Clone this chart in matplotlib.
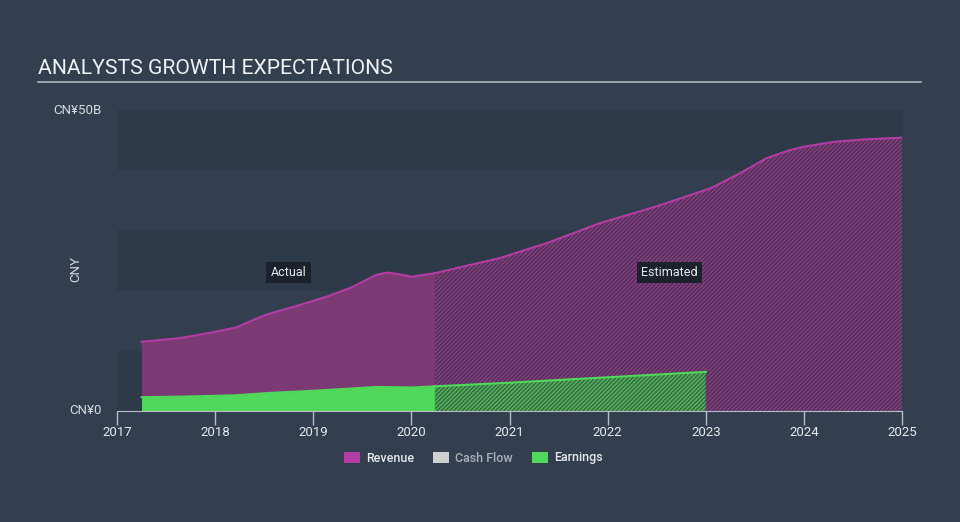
import matplotlib
matplotlib.use("Agg")
import matplotlib.pyplot as plt
from matplotlib.patches import Patch

plt.rcParams['font.family'] = ['Roboto', 'DejaVu Sans']
plt.rcParams['hatch.linewidth'] = 0.9

# revenue, CNY billions
rev_act_x = [2017.25, 2017.64, 2017.95, 2018.22, 2018.4, 2018.52, 2018.86, 2019.14, 2019.40, 2019.64, 2019.75, 2019.88, 2020.0, 2020.24]
rev_act_y = [11.5, 12.1, 13.0, 13.9, 15.2, 16.0, 17.6, 19.0, 20.6, 22.6, 23.0, 22.7, 22.3, 22.9]
rev_est_x = [2020.24, 2020.9, 2021.4, 2021.92, 2022.5, 2023.05, 2023.35, 2023.62, 2023.85, 2024.0, 2024.3, 2024.6, 2025.0]
rev_est_y = [22.9, 25.4, 28.0, 31.2, 34.0, 37.0, 39.5, 42.0, 43.3, 43.9, 44.7, 45.1, 45.4]

# earnings, CNY billions
ear_act_x = [2017.25, 2017.7, 2018.2, 2018.55, 2019.05, 2019.65, 2020.0, 2020.24]
ear_act_y = [2.3, 2.4, 2.6, 3.0, 3.4, 4.0, 3.9, 4.1]
ear_est_x = [2020.24, 2021.0, 2022.0, 2023.0]
ear_est_y = [4.1, 4.7, 5.6, 6.5]

years = [2017, 2018, 2019, 2020, 2021, 2022, 2023, 2024, 2025]

bg = '#333f4f'
band = '#2e3a48'
rev_line = '#b53ba6'
rev_fill = '#7b3a74'
ear_col = '#4fd85a'

fig = plt.figure(figsize=(9.6, 5.22), dpi=100, facecolor=bg)
ax = fig.add_axes([117/960, 111/522, 785/960, 301/522])
ax.set_facecolor(bg)

# alternating bands
for lo in [0, 20, 40]:
    ax.axhspan(lo, lo + 10, color=band, zorder=0, lw=0)

# revenue
ax.fill_between(rev_act_x, rev_act_y, color=rev_fill, lw=0, zorder=1)
ax.plot(rev_act_x, rev_act_y, color=rev_line, lw=1.5, zorder=3)
ax.fill_between(rev_est_x, rev_est_y, facecolor='#503458', edgecolor='#903d86', hatch='////////', lw=0, zorder=1)
ax.plot(rev_est_x, rev_est_y, color=rev_line, lw=1.5, zorder=3)

# earnings
ax.fill_between(ear_act_x, ear_act_y, color=ear_col, lw=0, zorder=2)
ax.plot(ear_act_x, ear_act_y, color=ear_col, lw=1.5, zorder=3)
ax.fill_between(ear_est_x, ear_est_y, facecolor='#3d6a47', edgecolor='#4fbf58', hatch='////////', lw=0, zorder=2)
ax.plot(ear_est_x, ear_est_y, color=ear_col, lw=1.5, zorder=3)

ax.set_xlim(2017, 2025)
ax.set_ylim(0, 50)
for s in ['top', 'right', 'left']:
    ax.spines[s].set_visible(False)
ax.spines['bottom'].set_color('#b8bec6')
ax.set_xticks(years)
ax.set_xticklabels([str(y) for y in years])
ax.tick_params(axis='x', colors='#b8bec6', length=10, width=1, labelsize=9.5, labelcolor='#e6e8eb', pad=1)
ax.set_yticks([])

ax.text(-0.02, 1.0, 'CN¥50B', transform=ax.transAxes, ha='right', va='center', color='#d6d9dd', fontsize=9.5)
ax.text(-0.02, 0.0, 'CN¥0', transform=ax.transAxes, ha='right', va='center', color='#d6d9dd', fontsize=9.5)
ax.text(-0.052, 0.47, 'CNY', transform=ax.transAxes, ha='center', va='center', rotation=90, color='#d6d9dd', fontsize=9.5)

box = dict(boxstyle='square,pad=0.35', facecolor='#1b222b', edgecolor='none')
ax.text(2018.75, 23.0, 'Actual', ha='center', va='center', color='#e6e8eb', fontsize=9, bbox=box, zorder=5)
ax.text(2022.63, 23.0, 'Estimated', ha='center', va='center', color='#e6e8eb', fontsize=9, bbox=box, zorder=5)

fig.text(38/960, 1 - 68/522, 'ANALYSTS GROWTH EXPECTATIONS', ha='left', va='center', color='#f0f2f4', fontsize=15.2)
fig.add_artist(plt.Line2D([38/960, 921/960], [1 - 82/522, 1 - 82/522], color='#aeb4bc', lw=1.2))

handles = [Patch(facecolor='#b53ba6', label='Revenue'),
           Patch(facecolor='#cfcfcf', label='Cash Flow'),
           Patch(facecolor=ear_col, label='Earnings')]
leg = fig.legend(handles=handles, loc='center', bbox_to_anchor=(0.493, 1 - 458/522), ncol=3, frameon=False,
                 prop={'size': 9, 'weight': 'medium'}, handlelength=1.3, handleheight=1.0,
                 columnspacing=1.5, handletextpad=0.5)
for t, c in zip(leg.get_texts(), ['#e6e8eb', '#a9afb7', '#e6e8eb']):
    t.set_color(c)

fig.savefig('out.png', dpi=100, facecolor=bg)
